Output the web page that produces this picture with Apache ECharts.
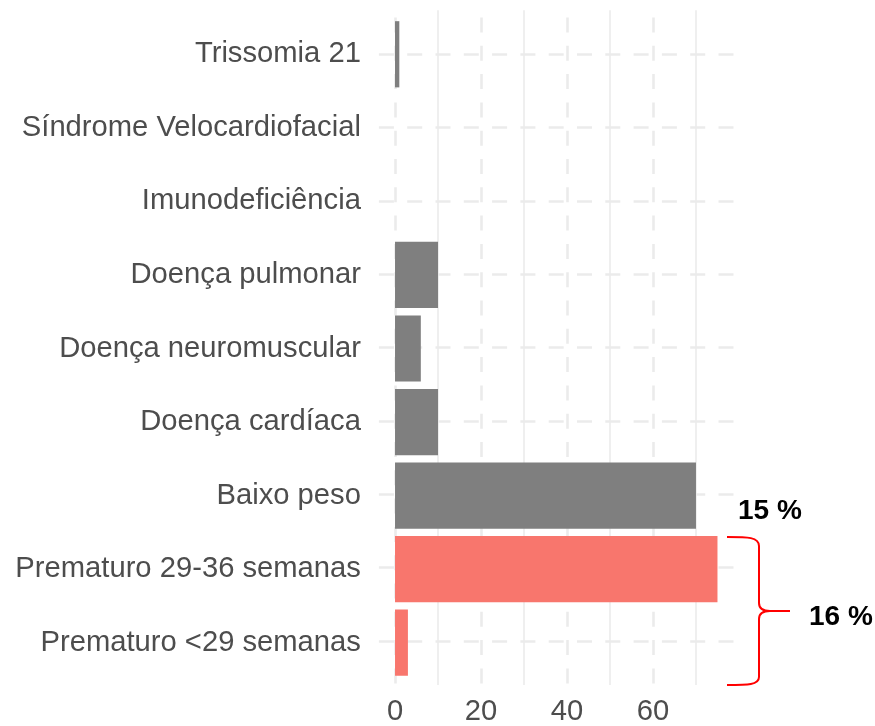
<!DOCTYPE html>
<html>
<head>
<meta charset="utf-8">
<script src="https://cdn.jsdelivr.net/npm/echarts@6/dist/echarts.min.js"></script>
<style>
  html, body { margin: 0; padding: 0; background: #fff; }
  #chart { width: 875px; height: 726px; }
</style>
</head>
<body>
<div id="chart"></div>
<script>
// categories, top to bottom as drawn
const categories = [
    "Trissomia 21",
    "Síndrome Velocardiofacial",
    "Imunodeficiência",
    "Doença pulmonar",
    "Doença neuromuscular",
    "Doença cardíaca",
    "Baixo peso",
    "Prematuro 29-36 semanas",
    "Prematuro <29 semanas"
]
const counts = [1, 0, 0, 10, 6, 10, 70, 75, 3]
const highlighted = ["Prematuro 29-36 semanas", "Prematuro <29 semanas"]
const majorTicks = [0, 20, 40, 60]
const minorTicks = [10, 30, 50, 70]
const rowTicks = [0, 1, 2, 3, 4, 5, 6, 7, 8]
const annotations = ["15 %", "16 %"]

const xMin = -3.75, xMax = 78.75
const font = "Liberation Sans, Arial, sans-serif"
const gridColor = "#ebebeb"
const braceStyle = { stroke: "#ff0000", lineWidth: 2, fill: null }

function curve(x1, y1, cx1, cy1, cx2, cy2, x2, y2) {
    return {
        type: "bezierCurve", z: 10,
        shape: { x1: x1, y1: y1, cpx1: cx1, cpy1: cy1, cpx2: cx2, cpy2: cy2, x2: x2, y2: y2 },
        style: braceStyle
    }
}
function segment(x1, y1, x2, y2) {
    return { type: "line", z: 10, shape: { x1: x1, y1: y1, x2: x2, y2: y2 }, style: braceStyle }
}

var chart = echarts.init(document.getElementById("chart"))
chart.setOption({
    animation: false,
    backgroundColor: "#ffffff",
    grid: [
        // bars
        { left: 378.9, right: 141.4, top: 17.5, bottom: 46.5 },
        // panel with grid lines (ggplot expands the discrete axis by 0.6)
        { left: 378.9, right: 141.4, top: 10.2, bottom: 39.2 }
    ],
    xAxis: [
        {
            gridIndex: 0, type: "value", min: xMin, max: xMax,
            axisLine: { show: false }, axisTick: { show: false },
            axisLabel: { show: false }, splitLine: { show: false }
        },
        {
            gridIndex: 1, type: "value", min: xMin, max: xMax,
            axisLine: { show: false },
            axisTick: { show: false, customValues: majorTicks },
            axisLabel: {
                customValues: majorTicks, margin: 12,
                color: "#4d4d4d", fontSize: 29.2, fontFamily: font
            },
            splitLine: {
                show: true,
                lineStyle: { color: gridColor, width: 2.6, type: [15, 13.3], dashOffset: 21 }
            }
        },
        {
            gridIndex: 1, type: "value", min: xMin, max: xMax,
            axisLine: { show: false },
            axisTick: { show: false, customValues: minorTicks },
            axisLabel: { show: false, customValues: minorTicks },
            splitLine: { show: true, lineStyle: { color: gridColor, width: 1.6 } }
        }
    ],
    yAxis: [
        {
            gridIndex: 0, type: "category", data: categories, inverse: true,
            axisLine: { show: false }, axisTick: { show: false },
            splitLine: { show: false },
            axisLabel: {
                margin: 18, padding: [6, 0, 0, 0],
                color: "#4d4d4d", fontSize: 29.2, fontFamily: font
            }
        },
        {
            gridIndex: 1, type: "value", min: -0.6, max: 8.6,
            axisLine: { show: false },
            axisTick: { show: false, customValues: rowTicks },
            axisLabel: { show: false, customValues: rowTicks },
            splitLine: {
                show: true,
                lineStyle: { color: gridColor, width: 2.6, type: [15, 13.3] }
            }
        }
    ],
    series: [
        {
            type: "bar",
            xAxisIndex: 0, yAxisIndex: 0,
            barWidth: "90%",
            z: 3,
            data: counts.map((v, i) => ({
                value: v,
                itemStyle: { color: highlighted.includes(categories[i]) ? "#F8766D" : "#7f7f7f" }
            }))
        }
    ],
    graphic: [
        {
            type: "text", left: 738, top: 497,
            style: { text: annotations[0], fill: "#000", font: "bold 28px " + font }
        },
        {
            type: "text", left: 809, top: 603,
            style: { text: annotations[1], fill: "#000", font: "bold 28px " + font }
        },
        // curly brace over the two premature bars
        curve(727, 537, 748, 537, 759, 537, 759, 546),
        segment(759, 546, 759, 603),
        curve(759, 603, 759, 608, 762, 611, 770, 611),
        segment(770, 611, 790, 611),
        curve(770, 611, 762, 611, 759, 614, 759, 619),
        segment(759, 619, 759, 677),
        curve(759, 677, 759, 685, 748, 685, 727, 685)
    ]
})
</script>
</body>
</html>
